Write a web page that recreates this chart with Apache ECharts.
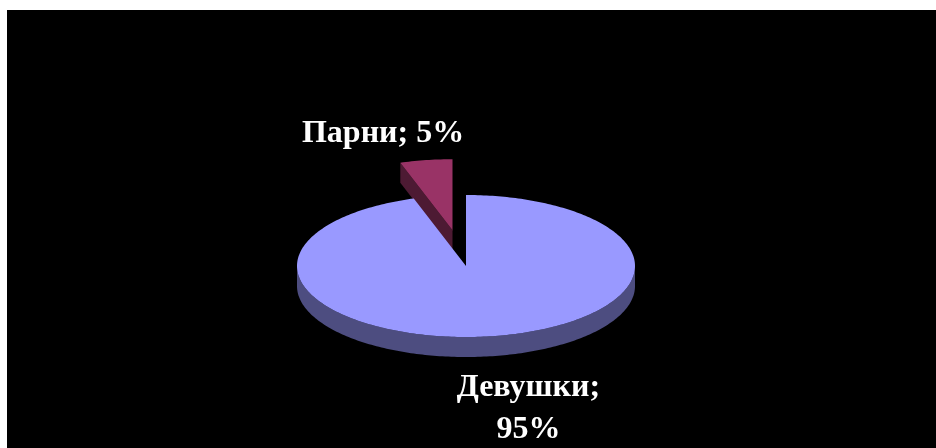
<!DOCTYPE html>
<html>
<head>
<meta charset="utf-8">
<script src="https://cdn.jsdelivr.net/npm/echarts@6/dist/echarts.min.js"></script>
<style>
html,body{margin:0;padding:0;background:#fff;width:936px;height:448px;overflow:hidden}
#c{position:absolute;left:7px;top:10px;width:929px;height:438px;background:#000}
</style>
</head>
<body>
<div id="c"></div>
<script>
// ---- data ----
const categories = ['Девушки', 'Парни'];
const values = [95, 5];
const explode = [0, 0.51];           // fraction of radius
const labelBreak = [true, false];    // wrap percentage to a new line

// ---- style ----
const topColors = ['#9999FF', '#993366'];
const sideColors = ['#4D4D80', '#4D1A33'];
const labelOffsets = [[36, 53], [-43, -26]];

const total = values.reduce((a, b) => a + b, 0);
const starts = [];
let acc = 0;
values.forEach(v => { starts.push(acc / total * 360); acc += v; });

const CX = 459, CY = 256, RX = 169, RY = 71, DEPTH = 20;
const rad = d => d * Math.PI / 180;

function pt(theta, ox, oy, dz) {
  return [ox + RX * Math.sin(rad(theta)), oy - RY * Math.cos(rad(theta)) + dz];
}
function arc(a, b, ox, oy, dz) {
  const pts = [];
  const n = Math.max(2, Math.ceil(Math.abs(b - a)));
  for (let k = 0; k <= n; k++) pts.push(pt(a + (b - a) * k / n, ox, oy, dz));
  return pts;
}

const chart = echarts.init(document.getElementById('c'));
chart.setOption({
  animation: false,
  series: [{
    type: 'custom',
    coordinateSystem: 'none',
    data: values.map((v, i) => ({ value: v, name: categories[i] })),
    renderItem: function (params, api) {
      const i = params.dataIndex;
      const v = api.value(0);
      const a0 = starts[i];
      const a1 = a0 + v / total * 360;
      const mid = (a0 + a1) / 2;
      const ox = CX + explode[i] * RX * Math.sin(rad(mid));
      const oy = CY - explode[i] * RY * Math.cos(rad(mid));
      const children = [];
      // outer side (front half)
      const s0 = Math.max(a0, 90), s1 = Math.min(a1, 270);
      if (s1 > s0) {
        const topArc = arc(s0, s1, ox, oy, 0);
        const botArc = arc(s0, s1, ox, oy, DEPTH).reverse();
        children.push({ type: 'polygon', z2: 1, shape: { points: topArc.concat(botArc) },
          style: { fill: sideColors[i] } });
      }
      // radial faces
      const radial = (a) => {
        const p = pt(a, ox, oy, 0);
        return [[ox, oy], p, [p[0], p[1] + DEPTH], [ox, oy + DEPTH]];
      };
      if (Math.sin(rad(a0)) < -1e-6) {
        children.push({ type: 'polygon', z2: 1, shape: { points: radial(a0) }, style: { fill: sideColors[i] } });
      }
      if (Math.sin(rad(a1)) > 1e-6) {
        children.push({ type: 'polygon', z2: 1, shape: { points: radial(a1) }, style: { fill: sideColors[i] } });
      }
      // top face
      children.push({ type: 'polygon', z2: 2,
        shape: { points: [[ox, oy]].concat(arc(a0, a1, ox, oy, 0)) },
        style: { fill: topColors[i] } });
      // label
      const outer = pt(mid, ox, oy, Math.cos(rad(mid)) < 0 ? DEPTH : 0);
      const pct = Math.round(v / total * 100) + '%';
      children.push({ type: 'text', z2: 3,
        x: outer[0] + labelOffsets[i][0], y: outer[1] + labelOffsets[i][1],
        style: {
          text: categories[i] + ';' + (labelBreak[i] ? '\n' : ' ') + pct,
          fill: '#fff', font: 'bold 32px "Liberation Serif", "Times New Roman", serif',
          align: 'center', verticalAlign: 'middle', lineHeight: 42
        } });
      return { type: 'group', children: children };
    }
  }]
});
</script>
</body>
</html>
